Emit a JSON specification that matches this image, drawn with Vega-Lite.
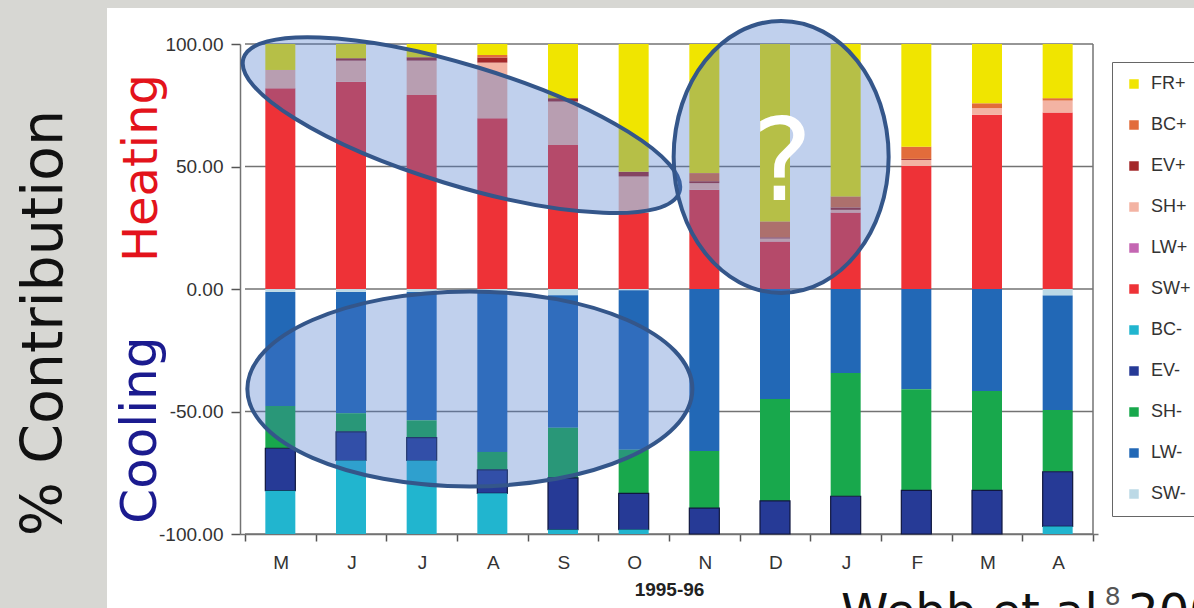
{
  "$schema": "https://vega.github.io/schema/vega-lite/v6.json",
  "width": 1087,
  "height": 600,
  "autosize": {"type": "none"},
  "padding": {"left": 107, "top": 8, "right": 0, "bottom": 0},
  "background": "#d7d7d3",
  "config": {
    "view": {"fill": "white", "stroke": null},
    "font": "Liberation Sans"
  },
  "resolve": {"axis": {"x": "independent", "y": "independent"}},
  "layer": [
    {
      "data": {"values": [{"g": -100}, {"g": -50}, {"g": 0}, {"g": 50}, {"g": 100}]},
      "mark": {"type": "rule", "color": "#737373", "strokeWidth": 1.5},
      "encoding": {
        "y": {"field": "g", "type": "quantitative", "axis": null},
        "x": {"datum": 0.5, "type": "quantitative", "axis": null},
        "x2": {"datum": 12.5}
      }
    },
    {
      "data": {"values": [{}]},
      "mark": {"type": "rule", "color": "#737373", "strokeWidth": 1.5},
      "encoding": {
        "x": {"datum": 12.5, "type": "quantitative", "axis": null},
        "y": {"datum": -100, "type": "quantitative", "axis": null},
        "y2": {"datum": 100}
      }
    },
    {
      "data": {"values": [
        {"t": 1, "series": "SW+", "value": 81.9}, {"t": 1, "series": "SH+", "value": 7.5}, {"t": 1, "series": "FR+", "value": 10.6},
        {"t": 1, "series": "SW-", "value": -1.2}, {"t": 1, "series": "LW-", "value": -46.6}, {"t": 1, "series": "SH-", "value": -17.2}, {"t": 1, "series": "EV-", "value": -17.3}, {"t": 1, "series": "BC-", "value": -17.7},
        {"t": 2, "series": "SW+", "value": 84.6}, {"t": 2, "series": "SH+", "value": 8.6}, {"t": 2, "series": "EV+", "value": 1.0}, {"t": 2, "series": "FR+", "value": 5.8},
        {"t": 2, "series": "SW-", "value": -1.2}, {"t": 2, "series": "LW-", "value": -49.5}, {"t": 2, "series": "SH-", "value": -7.6}, {"t": 2, "series": "EV-", "value": -11.7}, {"t": 2, "series": "BC-", "value": -30.0},
        {"t": 3, "series": "SW+", "value": 79.2}, {"t": 3, "series": "SH+", "value": 14.0}, {"t": 3, "series": "EV+", "value": 1.4}, {"t": 3, "series": "FR+", "value": 5.4},
        {"t": 3, "series": "SW-", "value": -1.2}, {"t": 3, "series": "LW-", "value": -52.4}, {"t": 3, "series": "SH-", "value": -7.1}, {"t": 3, "series": "EV-", "value": -9.3}, {"t": 3, "series": "BC-", "value": -30.0},
        {"t": 4, "series": "SW+", "value": 69.7}, {"t": 4, "series": "SH+", "value": 22.7}, {"t": 4, "series": "EV+", "value": 2.1}, {"t": 4, "series": "BC+", "value": 1.0}, {"t": 4, "series": "FR+", "value": 4.5},
        {"t": 4, "series": "SW-", "value": -1.2}, {"t": 4, "series": "LW-", "value": -65.3}, {"t": 4, "series": "SH-", "value": -7.3}, {"t": 4, "series": "EV-", "value": -9.6}, {"t": 4, "series": "BC-", "value": -16.6},
        {"t": 5, "series": "SW+", "value": 58.8}, {"t": 5, "series": "SH+", "value": 17.7}, {"t": 5, "series": "EV+", "value": 1.4}, {"t": 5, "series": "FR+", "value": 22.1},
        {"t": 5, "series": "SW-", "value": -2.5}, {"t": 5, "series": "LW-", "value": -54.1}, {"t": 5, "series": "SH-", "value": -20.5}, {"t": 5, "series": "EV-", "value": -21.1}, {"t": 5, "series": "BC-", "value": -1.8},
        {"t": 6, "series": "SW+", "value": 31.0}, {"t": 6, "series": "SH+", "value": 14.9}, {"t": 6, "series": "EV+", "value": 2.0}, {"t": 6, "series": "FR+", "value": 52.1},
        {"t": 6, "series": "SW-", "value": -0.5}, {"t": 6, "series": "LW-", "value": -65.1}, {"t": 6, "series": "SH-", "value": -17.8}, {"t": 6, "series": "EV-", "value": -14.8}, {"t": 6, "series": "BC-", "value": -1.8},
        {"t": 7, "series": "SW+", "value": 40.5}, {"t": 7, "series": "SH+", "value": 2.7}, {"t": 7, "series": "EV+", "value": 0.8}, {"t": 7, "series": "BC+", "value": 3.3}, {"t": 7, "series": "FR+", "value": 52.7},
        {"t": 7, "series": "LW-", "value": -66.1}, {"t": 7, "series": "SH-", "value": -23.3}, {"t": 7, "series": "EV-", "value": -10.6},
        {"t": 8, "series": "SW+", "value": 19.4}, {"t": 8, "series": "SH+", "value": 1.2}, {"t": 8, "series": "EV+", "value": 0.5}, {"t": 8, "series": "BC+", "value": 6.5}, {"t": 8, "series": "FR+", "value": 72.4},
        {"t": 8, "series": "LW-", "value": -44.9}, {"t": 8, "series": "SH-", "value": -41.6}, {"t": 8, "series": "EV-", "value": -13.5},
        {"t": 9, "series": "SW+", "value": 31.2}, {"t": 9, "series": "SH+", "value": 1.1}, {"t": 9, "series": "EV+", "value": 1.0}, {"t": 9, "series": "BC+", "value": 4.5}, {"t": 9, "series": "FR+", "value": 62.2},
        {"t": 9, "series": "LW-", "value": -34.3}, {"t": 9, "series": "SH-", "value": -50.3}, {"t": 9, "series": "EV-", "value": -15.4},
        {"t": 10, "series": "SW+", "value": 50.3}, {"t": 10, "series": "SH+", "value": 2.4}, {"t": 10, "series": "EV+", "value": 0.4}, {"t": 10, "series": "BC+", "value": 5.0}, {"t": 10, "series": "FR+", "value": 41.9},
        {"t": 10, "series": "LW-", "value": -40.9}, {"t": 10, "series": "SH-", "value": -41.3}, {"t": 10, "series": "EV-", "value": -17.8},
        {"t": 11, "series": "SW+", "value": 71.1}, {"t": 11, "series": "SH+", "value": 2.7}, {"t": 11, "series": "BC+", "value": 2.0}, {"t": 11, "series": "FR+", "value": 24.2},
        {"t": 11, "series": "LW-", "value": -41.6}, {"t": 11, "series": "SH-", "value": -40.6}, {"t": 11, "series": "EV-", "value": -17.8},
        {"t": 12, "series": "SW+", "value": 72.0}, {"t": 12, "series": "SH+", "value": 4.9}, {"t": 12, "series": "BC+", "value": 1.0}, {"t": 12, "series": "FR+", "value": 22.1},
        {"t": 12, "series": "SW-", "value": -2.7}, {"t": 12, "series": "LW-", "value": -46.7}, {"t": 12, "series": "SH-", "value": -25.2}, {"t": 12, "series": "EV-", "value": -22.3}, {"t": 12, "series": "BC-", "value": -3.1}
      ]},
      "transform": [
        {"calculate": "indexof(['SW','LW','SH','EV','BC','FR'], slice(datum.series, 0, 2))", "as": "rank"}
      ],
      "mark": {"type": "bar", "orient": "vertical", "size": 30, "strokeWidth": 1.2},
      "encoding": {
        "x": {
          "field": "t", "type": "quantitative",
          "scale": {"domain": [0.5, 12.5], "range": [133, 991], "nice": false, "zero": false},
          "axis": {
            "orient": "bottom",
            "values": [0.5, 1.5, 2.5, 3.5, 4.5, 5.5, 6.5, 7.5, 8.5, 9.5, 10.5, 11.5, 12.5],
            "labelExpr": "['M','J','J','A','S','O','N','D','J','F','M','A',''][round(datum.value - 0.5)]",
            "labelOffset": 35.75, "labelFlush": false, "labelOverlap": false, "labelBound": false,
            "offset": -74, "grid": false,
            "labelFontSize": 19, "labelColor": "#333", "labelPadding": 12,
            "tickSize": 7, "tickColor": "#555", "tickWidth": 1.5,
            "domainColor": "#737373", "domainWidth": 1.5,
            "title": "1995-96", "titleFontSize": 19, "titleFontWeight": "bold", "titleColor": "#222", "titlePadding": 8
          }
        },
        "y": {
          "field": "value", "type": "quantitative", "stack": "zero",
          "scale": {"domain": [-100, 100], "range": [526, 36], "nice": false, "zero": false},
          "axis": {
            "orient": "left",
            "values": [-100, -50, 0, 50, 100],
            "labelExpr": "(datum.value < 0 ? '-' : '') + format(abs(datum.value), '.2f')",
            "offset": -133, "grid": false, "title": null,
            "labelFontSize": 19, "labelColor": "#333", "labelPadding": 8,
            "tickSize": 9, "tickColor": "#555", "tickWidth": 1.5,
            "domainColor": "#737373", "domainWidth": 1.5
          }
        },
        "color": {
          "field": "series", "type": "nominal",
          "scale": {
            "domain": ["FR+", "BC+", "EV+", "SH+", "LW+", "SW+", "BC-", "EV-", "SH-", "LW-", "SW-"],
            "range": ["#f0e500", "#e26c3b", "#a3282a", "#f3b3a3", "#c466b2", "#ee3237", "#21b5cf", "#263a96", "#18a84c", "#2268b6", "#bcd9e6"]
          },
          "legend": {
            "title": null, "orient": "none", "legendX": 1005, "legendY": 54,
            "symbolType": "square", "symbolSize": 90, "symbolStrokeWidth": 0,
            "labelFontSize": 18, "labelColor": "#333", "labelOffset": 8,
            "rowPadding": 23, "padding": 13,
            "strokeColor": "#666", "fillColor": "white"
          }
        },
        "order": {"field": "rank", "type": "quantitative"},
        "stroke": {"condition": {"test": "datum.series === 'EV-'", "value": "#10173f"}, "value": "transparent"}
      }
    },
    {
      "data": {"values": [{}]},
      "mark": {"type": "point", "shape": "M -228 0 A 228 60 0 1 0 228 0 A 228 60 0 1 0 -228 0 Z", "size": 4, "angle": 17, "filled": true, "fill": "#4a78cc", "fillOpacity": 0.35, "stroke": "#34568a", "strokeWidth": 4, "strokeOpacity": 1, "opacity": 1, "clip": false},
      "encoding": {
        "x": {"datum": 3.563, "type": "quantitative", "axis": null},
        "y": {"datum": 66.9, "type": "quantitative", "axis": null}
      }
    },
    {
      "data": {"values": [{}]},
      "mark": {"type": "point", "shape": "M -107.5 0 A 107.5 136 0 1 0 107.5 0 A 107.5 136 0 1 0 -107.5 0 Z", "size": 4, "filled": true, "fill": "#4a78cc", "fillOpacity": 0.35, "stroke": "#34568a", "strokeWidth": 4, "strokeOpacity": 1, "opacity": 1, "clip": false},
      "encoding": {
        "x": {"datum": 8.087, "type": "quantitative", "axis": null},
        "y": {"datum": 53.9, "type": "quantitative", "axis": null}
      }
    },
    {
      "data": {"values": [{}]},
      "mark": {"type": "point", "shape": "M -222.5 0 A 222.5 97.5 0 1 0 222.5 0 A 222.5 97.5 0 1 0 -222.5 0 Z", "size": 4, "filled": true, "fill": "#4a78cc", "fillOpacity": 0.35, "stroke": "#34568a", "strokeWidth": 4, "strokeOpacity": 1, "opacity": 1, "clip": false},
      "encoding": {
        "x": {"datum": 3.682, "type": "quantitative", "axis": null},
        "y": {"datum": -40.8, "type": "quantitative", "axis": null}
      }
    },
    {
      "data": {"values": [{}]},
      "mark": {"type": "text", "text": "?", "font": "DejaVu Sans", "fontSize": 114, "color": "white", "align": "center", "baseline": "alphabetic", "clip": false},
      "encoding": {
        "x": {"datum": 8.101, "type": "quantitative", "axis": null},
        "y": {"datum": 36.3, "type": "quantitative", "axis": null}
      }
    },
    {
      "data": {"values": [{}]},
      "mark": {"type": "text", "text": "% Contribution", "font": "DejaVu Sans", "fontSize": 57, "angle": 270, "color": "#111", "align": "center", "baseline": "middle", "clip": false},
      "encoding": {
        "x": {"datum": -2.325, "type": "quantitative", "axis": null},
        "y": {"datum": -13.9, "type": "quantitative", "axis": null}
      }
    },
    {
      "data": {"values": [{}]},
      "mark": {"type": "text", "text": "Heating", "font": "DejaVu Sans", "fontSize": 48, "angle": 270, "color": "#e3131b", "align": "center", "baseline": "middle", "clip": false},
      "encoding": {
        "x": {"datum": -0.94, "type": "quantitative", "axis": null},
        "y": {"datum": 49.4, "type": "quantitative", "axis": null}
      }
    },
    {
      "data": {"values": [{}]},
      "mark": {"type": "text", "text": "Cooling", "font": "DejaVu Sans", "fontSize": 50, "angle": 270, "color": "#1b1b8f", "align": "center", "baseline": "middle", "clip": false},
      "encoding": {
        "x": {"datum": -0.969, "type": "quantitative", "axis": null},
        "y": {"datum": -57.6, "type": "quantitative", "axis": null}
      }
    },
    {
      "data": {"values": [{}]},
      "mark": {"type": "text", "text": "8", "font": "DejaVu Sans", "fontSize": 25, "color": "#555", "align": "center", "baseline": "alphabetic", "clip": false},
      "encoding": {
        "x": {"datum": 12.78, "type": "quantitative", "axis": null},
        "y": {"datum": -129.0, "type": "quantitative", "axis": null}
      }
    },
    {
      "data": {"values": [{}]},
      "mark": {"type": "text", "text": "Webb et al. 2000", "font": "DejaVu Sans", "fontSize": 48, "color": "#111", "align": "left", "baseline": "alphabetic", "clip": false},
      "encoding": {
        "x": {"datum": 8.934, "type": "quantitative", "axis": null},
        "y": {"datum": -138.4, "type": "quantitative", "axis": null}
      }
    }
  ]
}
